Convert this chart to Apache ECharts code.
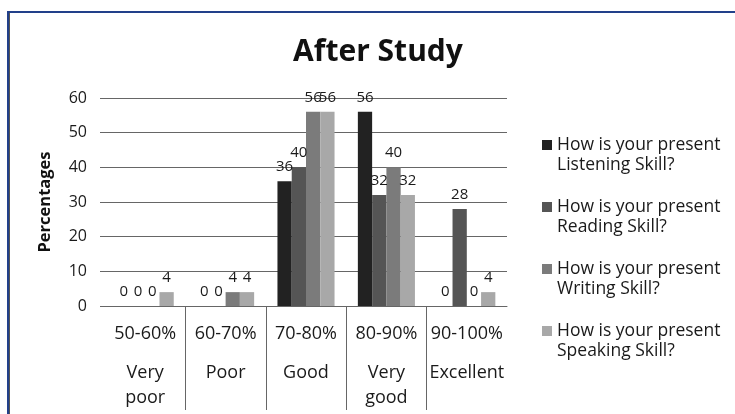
<!DOCTYPE html>
<html><head><meta charset="utf-8">
<script src="https://cdn.jsdelivr.net/npm/echarts@6/dist/echarts.min.js"></script>
<style>
html,body{margin:0;padding:0;background:#fff;}
#frame{position:absolute;left:7px;top:11px;width:760px;height:420px;border-left:2px solid #22408a;border-top:2px solid #22408a;}
#frame2{position:absolute;left:9px;top:13px;width:760px;height:420px;border-left:1px solid #555;}
#chart{position:absolute;left:0;top:0;width:735px;height:414px;}
</style></head><body>
<div id="frame"></div><div id="frame2"></div>
<div id="chart"></div>
<script>
const categories = ['50-60%', '60-70%', '70-80%', '80-90%', '90-100%'];
const ratings = ['Very\npoor', 'Poor', 'Good', 'Very\ngood', 'Excellent'];
const seriesNames = [
  'How is your present\nListening Skill?',
  'How is your present\nReading Skill?',
  'How is your present\nWriting Skill?',
  'How is your present\nSpeaking Skill?'
];
const listening = [0, 0, 36, 56, 0];
const reading = [0, 0, 40, 32, 28];
const writing = [0, 4, 56, 40, 0];
const speaking = [4, 4, 56, 32, 4];
const yMin = 0, yMax = 60, yStep = 10;
const colors = ['#222222', '#555555', '#7b7b7b', '#a8a8a8'];
const FONT = 'Open Sans';

const W = 735, H = 414;
const gridLeft = 105, gridRight = 228, gridTop = 98, gridBottom = 108;
const band = (W - gridLeft - gridRight) / categories.length;

const chart = echarts.init(document.getElementById('chart'));
const valueSets = [listening, reading, writing, speaking];
const series = valueSets.map((vals, i) => ({
  name: seriesNames[i],
  type: 'bar',
  data: vals,
  barGap: 0,
  barCategoryGap: '29%',
  itemStyle: { color: colors[i] },
  label: { show: true, position: 'top', distance: 7, fontFamily: FONT, fontSize: 15, color: '#1a1a1a' }
}));

chart.setOption({
  animation: false,
  textStyle: { fontFamily: FONT },
  title: {
    text: 'After Study', left: 373, top: 32, textAlign: 'center',
    textStyle: { fontFamily: FONT, fontWeight: 'bold', fontSize: 30, color: '#111' }
  },
  legend: {
    orient: 'vertical', left: 542, top: 115, padding: 0,
    itemWidth: 10, itemHeight: 10, itemGap: 2, icon: 'rect',
    formatter: function (name) { return '\n' + name; },
    textStyle: { fontFamily: FONT, fontSize: 17.5, lineHeight: 20, color: '#1a1a1a' }
  },
  grid: [
    { left: gridLeft, right: gridRight, top: gridTop, bottom: gridBottom },
    { left: gridLeft + band, right: gridRight + band, top: gridTop, bottom: gridBottom }
  ],
  xAxis: [
    {
      type: 'category', data: categories, gridIndex: 0,
      axisLine: { show: true, lineStyle: { color: '#666', width: 1 } },
      axisTick: { show: false },
      axisLabel: {
        interval: 0, margin: 1.5, color: '#1a1a1a',
        formatter: function (v, idx) {
          return '{a|' + v + '}\n' + ratings[idx].split('\n').map(s => '{b|' + s + '}').join('\n');
        },
        rich: {
          a: { fontFamily: FONT, fontSize: 18, lineHeight: 53, color: '#1a1a1a' },
          b: { fontFamily: FONT, fontSize: 18, lineHeight: 25, color: '#1a1a1a' }
        }
      }
    },
    {
      type: 'category', data: ['', '', ''], gridIndex: 1,
      axisLine: { show: false },
      axisLabel: { show: false },
      axisTick: { show: true, length: 104, lineStyle: { color: '#666', width: 1 } },
      splitLine: { show: false }
    }
  ],
  yAxis: [
    {
      type: 'value', gridIndex: 0, min: yMin, max: yMax, interval: yStep,
      name: 'Percentages', nameLocation: 'middle', nameGap: 51, nameRotate: 90,
      nameTextStyle: { fontFamily: FONT, fontWeight: 'bold', fontSize: 16.5, color: '#111' },
      axisLine: { show: false },
      axisTick: { show: true, length: 5, lineStyle: { color: '#666' } },
      splitLine: { show: true, lineStyle: { color: '#666', width: 1 } },
      axisLabel: { fontFamily: FONT, fontSize: 16, color: '#1a1a1a', margin: 18 }
    },
    { type: 'value', gridIndex: 1, show: false, min: yMin, max: yMax }
  ],
  series: series
});
</script>
</body></html>
